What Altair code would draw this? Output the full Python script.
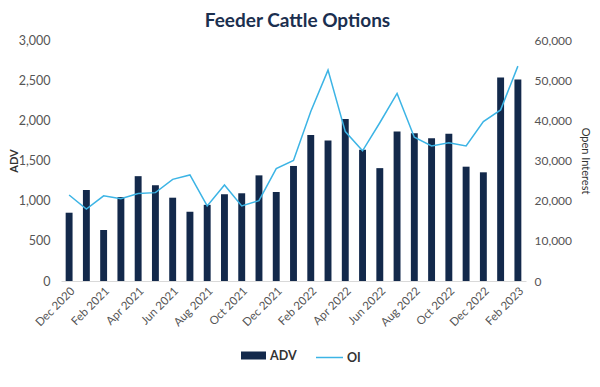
import altair as alt
import pandas as pd

months = ["Dec 2020", "Jan 2021", "Feb 2021", "Mar 2021", "Apr 2021", "May 2021",
          "Jun 2021", "Jul 2021", "Aug 2021", "Sep 2021", "Oct 2021", "Nov 2021",
          "Dec 2021", "Jan 2022", "Feb 2022", "Mar 2022", "Apr 2022", "May 2022",
          "Jun 2022", "Jul 2022", "Aug 2022", "Sep 2022", "Oct 2022", "Nov 2022",
          "Dec 2022", "Jan 2023", "Feb 2023"]
adv = [850, 1133, 635, 1045, 1305, 1192, 1037, 862, 948, 1080, 1092, 1315,
       1108, 1432, 1818, 1748, 2017, 1635, 1405, 1862, 1838, 1778, 1834, 1423,
       1353, 2532, 2507]
oi = [21400, 17900, 21200, 20500, 21800, 22000, 25300, 26400, 18700, 23900,
      18700, 20000, 28000, 30000, 42200, 52500, 37200, 32400, 39400, 46700,
      35800, 33600, 34400, 33600, 39700, 42600, 53500]
adv_ticks = [0, 500, 1000, 1500, 2000, 2500, 3000]
oi_ticks = [0, 10000, 20000, 30000, 40000, 50000, 60000]

NAVY = "#13294B"
BLUE = "#3CB4E5"
FONT = "Lato"

df = pd.DataFrame({"month": months, "adv": adv, "oi": oi})
df["s_adv"] = "ADV"
df["s_oi"] = "OI"

xenc = alt.X("month:N", sort=months,
             scale=alt.Scale(paddingInner=0.6, paddingOuter=0.27),
             axis=alt.Axis(values=months[::2], labelAngle=-45, title=None,
                           ticks=False, domainColor="#d9d9d9", labelColor="#555",
                           labelFontSize=11.5, labelFont=FONT, labelPadding=4))

base = alt.Chart(df).encode(x=xenc)

bars = base.mark_bar(color=NAVY).encode(
    y=alt.Y("adv:Q", scale=alt.Scale(domain=[0, 3000]),
            axis=alt.Axis(values=adv_ticks, format=",.0f", title="ADV", grid=False,
                          domain=False, ticks=False, orient="left",
                          labelColor="#555", labelFontSize=12.5, labelFont=FONT,
                          labelPadding=11, titleFont=FONT, titleFontSize=11,
                          titleFontWeight="bold", titleColor="#333",
                          titlePadding=-1)),
    color=alt.Color("s_adv:N", scale=alt.Scale(domain=["ADV"], range=[NAVY]),
                    legend=alt.Legend(title=None, orient="none", legendX=180,
                                      legendY=303,
                                      symbolType="M-1,-0.32H1V0.32H-1Z",
                                      symbolSize=625, symbolStrokeWidth=0,
                                      labelFont=FONT, labelFontSize=12.5,
                                      labelFontWeight="bold", labelColor="#333",
                                      labelOffset=4)),
)

line = base.mark_line(color=BLUE, strokeWidth=1.5).encode(
    y=alt.Y("oi:Q", scale=alt.Scale(domain=[0, 60000]),
            axis=alt.Axis(values=oi_ticks, format=",.0f", title="Open Interest",
                          grid=False, domain=False, ticks=False, orient="right",
                          labelColor="#555", labelFontSize=12, labelFont=FONT,
                          labelPadding=8, titleFont=FONT, titleFontSize=11,
                          titleFontWeight="normal", titleColor="#333",
                          titlePadding=8)),
    color=alt.Color("s_oi:N", scale=alt.Scale(domain=["OI"], range=[BLUE]),
                    legend=alt.Legend(title=None, orient="none", legendX=254,
                                      legendY=303, symbolType="stroke",
                                      symbolSize=729, symbolStrokeWidth=1.5,
                                      labelFont=FONT, labelFontSize=12.5,
                                      labelFontWeight="bold", labelColor="#333",
                                      labelOffset=3)),
)

chart = alt.layer(bars, line).resolve_scale(
    y="independent", color="independent"
).properties(
    width=465, height=241,
    title=alt.TitleParams("Feeder Cattle Options", font=FONT, fontSize=19,
                          fontWeight="bold", color="#1B2F4F", anchor="middle",
                          offset=3, dx=4),
    autosize=alt.AutoSizeParams(type="none"),
    padding={"left": 53, "top": 32, "right": 66, "bottom": 90},
).configure_view(stroke=None)

chart.save("out.html", embed_options={"renderer": "svg", "actions": False})
